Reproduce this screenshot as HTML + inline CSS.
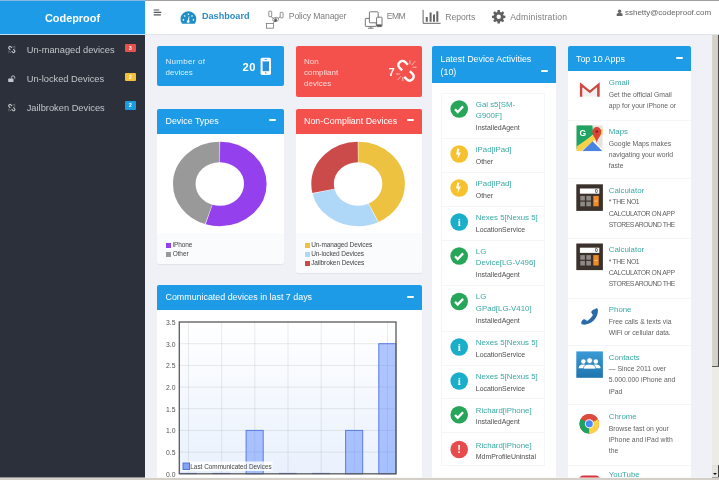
<!DOCTYPE html>
<html lang="en">
<head>
<meta charset="utf-8">
<title>Codeproof Dashboard</title>
<style>
*{box-sizing:border-box;margin:0;padding:0}
html,body{width:719px;height:480px;overflow:hidden}
body{position:relative;background:#eff1f6;font-family:"Liberation Sans",sans-serif;color:#555;font-size:8px}
.abs{position:absolute}
#winTop{left:0;top:0;width:719px;height:1px;background:linear-gradient(90deg,#86b8e0 0,#86b8e0 145px,#a0a0a0 145px);z-index:50}
#winBottom{left:0;top:477.6px;width:719px;height:2.4px;background:#d4d0c8;z-index:50}
#winBottomLine{left:0;top:477px;width:719px;height:.6px;background:rgba(244,243,239,.5);z-index:50}
#scrollR{left:711.8px;top:35px;width:7.2px;height:332px;background:linear-gradient(90deg,#dcd9d2 0,#d4d0c8 1.5px,#d8d4cc 3px,#d0ccc4 6px);z-index:40}
#scrollT{left:711.8px;top:367px;width:7.2px;height:110px;background:#ecebe5;z-index:40}
#scrollDark{left:718px;top:35px;width:1px;height:332px;background:#4a4a4a;z-index:41}
#scrollGray{left:712px;top:366px;width:7px;height:1px;background:#5a5a5a;z-index:41}
#scrollArrow{left:711.8px;top:465px;width:7.2px;height:12.6px;background:#e6e4de;z-index:42;border-right:1px solid #444;border-bottom:1px solid #555}
#scrollArrow:after{content:"";position:absolute;left:1.2px;top:7.6px;border:2px solid transparent;border-top:2.4px solid #111}
/* sidebar */
#side{left:0;top:0;width:145px;height:480px;background:#2b303a}
#brand{left:0;top:1px;width:145px;height:34px;background:#1d9be6;color:#fff;font-weight:bold;font-size:10.9px;text-align:center;line-height:34px}
.mi{left:26.7px;color:#c3c6cc;font-size:9.3px;letter-spacing:0;white-space:nowrap;line-height:12px}
.badge{left:124.8px;width:11.2px;height:8.8px;border-radius:1px;color:#fff;font-size:5.5px;line-height:8.8px;text-align:center;font-weight:bold}
/* top bar */
#top{left:145px;top:1px;width:574px;height:34px;background:#fff;border-bottom:1px solid #e1e4e9}
.nav{color:#7d7d7d;font-size:8.6px;white-space:nowrap;line-height:12px;top:9.8px}
/* panels */
.card{border-radius:2px;color:#fff}
.ph{color:#fff;font-size:8.9px;border-radius:2px 2px 0 0;white-space:nowrap}
.ph span{position:absolute;left:8.5px;top:6.5px;line-height:12px}
.minus{position:absolute;right:8px;width:7px;height:2px;background:#fff;border-radius:1px}
.pb{background:#fff}
.pf{background:#fafbfc;border-radius:0 0 2px 2px;box-shadow:0 1px 1px rgba(0,0,0,.06)}
.lg{font-size:6.5px;color:#444;white-space:nowrap;line-height:9.05px;letter-spacing:-.09px}
.lg i{display:inline-block;width:5px;height:5px;margin-right:1.5px;vertical-align:-0.4px;box-shadow:0 0 0 .5px rgba(255,255,255,.6)}
/* activities */
.it{left:440.5px;width:104px;border-top:1px solid #f4f5f8}
.ic{position:absolute;left:9.5px;width:17.6px;height:17.6px;border-radius:50%}
.tt{position:absolute;left:35.3px;color:#3aa9a3;font-size:7.85px;line-height:11.4px;white-space:nowrap}
.st{position:absolute;left:35.3px;color:#4e4e4e;font-size:6.95px;line-height:10px;white-space:nowrap}
/* apps */
.ap{left:567.5px;width:123px;border-top:1px solid #f4f5f8}
.ap .tt{left:41.3px;top:5.5px}
.ap .ds{position:absolute;left:41.3px;top:18px;color:#626262;font-size:6.8px;line-height:11.3px;white-space:nowrap}
.ai{position:absolute;left:8.5px;top:6px;width:27px;height:27px}
.cp{letter-spacing:-.38px}
</style>
</head>
<body>
<!-- SIDEBAR -->
<div id="side" class="abs"></div>
<div id="brand" class="abs">Codeproof</div>
<div class="abs" style="left:0;top:34.2px;width:145px;height:.9px;background:#bfe0f6"></div>
<div class="abs mi" style="top:43.5px">Un-managed devices</div>
<div class="abs mi" style="top:72.5px">Un-locked Devices</div>
<div class="abs mi" style="top:101.5px">Jailbroken Devices</div>
<div class="abs badge" style="top:43.6px;background:#e8504c">3</div>
<div class="abs badge" style="top:72.6px;background:#f4c23a">2</div>
<div class="abs badge" style="top:101.3px;background:#1b9be0">2</div>

<!-- TOP BAR -->
<div id="top" class="abs"></div>
<div class="abs nav" style="left:202px;top:10.4px;color:#2b8bc9;font-weight:bold;font-size:9.1px">Dashboard</div>
<div class="abs nav" style="left:288.8px;letter-spacing:-.12px">Policy Manager</div>
<div class="abs nav" style="left:386.8px;letter-spacing:-.55px">EMM</div>
<div class="abs nav" style="left:445.2px;top:10.6px">Reports</div>
<div class="abs nav" style="left:510.2px;top:10.6px;letter-spacing:.18px">Administration</div>
<div class="abs nav" style="left:625px;top:6.8px;font-size:7.98px;color:#666">sshetty@codeproof.com</div>

<!-- STAT CARDS -->
<div class="abs card" style="left:157px;top:46.2px;width:126.6px;height:40px;background:#1d9be6"></div>
<div class="abs" style="left:165.5px;top:55.5px;color:#dff0fc;font-size:8px;line-height:11.2px"><span style="letter-spacing:.27px">Number of</span><br>devices</div>
<div class="abs" style="left:242.6px;top:59.6px;color:#fff;font-size:11.2px;font-weight:bold;line-height:15px;letter-spacing:.35px">20</div>
<div class="abs card" style="left:295.5px;top:46.2px;width:126.5px;height:50.4px;background:#f4514c"></div>
<div class="abs" style="left:304px;top:55.5px;color:#fcd9d7;font-size:8px;line-height:11.2px">Non<br>compliant<br>devices</div>
<div class="abs" style="left:388.4px;top:64.6px;color:#fff;font-size:11.2px;font-weight:bold;line-height:14px">7</div>

<!-- DEVICE TYPES -->
<div class="abs ph" style="left:157px;top:109.2px;width:126.5px;height:24.5px;background:#1d9be6"><span style="top:6px">Device Types</span><div class="minus" style="top:10px"></div></div>
<div class="abs pb" style="left:157px;top:133.7px;width:126.5px;height:99.3px"></div>
<div class="abs pf" style="left:157px;top:233px;width:126.5px;height:31px"></div>
<div class="abs lg" style="left:166.2px;top:240.4px"><i style="background:#9440ed"></i>iPhone<br><i style="background:#999"></i>Other</div>

<!-- NON COMPLIANT -->
<div class="abs ph" style="left:295.5px;top:109.2px;width:126.5px;height:24.5px;background:#f4514c"><span style="top:6px">Non-Compliant Devices</span><div class="minus" style="top:10px"></div></div>
<div class="abs pb" style="left:295.5px;top:133.7px;width:126.5px;height:99.3px"></div>
<div class="abs pf" style="left:295.5px;top:233px;width:126.5px;height:40px"></div>
<div class="abs lg" style="left:304.7px;top:240.4px"><i style="background:#edc240"></i>Un-managed Devices<br><i style="background:#afd8f8"></i>Un-locked Devices<br><i style="background:#cb4b4b"></i>Jailbroken Devices</div>

<!-- CHART PANEL -->
<div class="abs ph" style="left:157px;top:285px;width:265px;height:24.5px;background:#1d9be6"><span style="top:5.6px">Communicated devices in last 7 days</span><div class="minus" style="top:10.5px"></div></div>
<div class="abs pb" style="left:157px;top:309.5px;width:265px;height:170px"></div>

<svg class="abs" style="left:0;top:0" width="719" height="480" viewBox="0 0 719 480">
<g transform="translate(219.8 184.0) scale(1 0.902)">
<circle cx="0" cy="0" r="35.5" fill="none" stroke="#9440ed" stroke-width="22.6" pathLength="360" stroke-dasharray="197.20 162.80" stroke-dashoffset="-0.40" transform="rotate(-90)"/>
<circle cx="0" cy="0" r="35.5" fill="none" stroke="#999999" stroke-width="22.6" pathLength="360" stroke-dasharray="161.20 198.80" stroke-dashoffset="-198.40" transform="rotate(-90)"/>
</g>
<g transform="translate(358.1 184.0) scale(1 0.902)">
<circle cx="0" cy="0" r="35.5" fill="none" stroke="#edc240" stroke-width="22.6" pathLength="360" stroke-dasharray="153.49 206.51" stroke-dashoffset="-0.40" transform="rotate(-90)"/>
<circle cx="0" cy="0" r="35.5" fill="none" stroke="#afd8f8" stroke-width="22.6" pathLength="360" stroke-dasharray="102.06 257.94" stroke-dashoffset="-154.69" transform="rotate(-90)"/>
<circle cx="0" cy="0" r="35.5" fill="none" stroke="#cb4b4b" stroke-width="22.6" pathLength="360" stroke-dasharray="102.06 257.94" stroke-dashoffset="-257.54" transform="rotate(-90)"/>
</g>
</svg>
<svg class="abs" style="left:0;top:0" width="719" height="480" viewBox="0 0 719 480">
<defs><linearGradient id="pg" x1="0" y1="0" x2="0" y2="1"><stop offset="0" stop-color="#ffffff"/><stop offset="1" stop-color="#e9f1fd"/></linearGradient></defs>
<rect x="179.3" y="322.0" width="216.7" height="151.8" fill="url(#pg)"/>
<line x1="179.3" x2="396.0" y1="452.1" y2="452.1" stroke="#545454" stroke-opacity=".2" stroke-width="0.6"/>
<line x1="179.3" x2="396.0" y1="430.4" y2="430.4" stroke="#545454" stroke-opacity=".2" stroke-width="0.6"/>
<line x1="179.3" x2="396.0" y1="408.7" y2="408.7" stroke="#545454" stroke-opacity=".2" stroke-width="0.6"/>
<line x1="179.3" x2="396.0" y1="387.1" y2="387.1" stroke="#545454" stroke-opacity=".2" stroke-width="0.6"/>
<line x1="179.3" x2="396.0" y1="365.4" y2="365.4" stroke="#545454" stroke-opacity=".2" stroke-width="0.6"/>
<line x1="179.3" x2="396.0" y1="343.7" y2="343.7" stroke="#545454" stroke-opacity=".2" stroke-width="0.6"/>
<line y1="322.0" y2="473.8" x1="188.5" x2="188.5" stroke="#545454" stroke-opacity=".2" stroke-width="0.6"/>
<line y1="322.0" y2="473.8" x1="221.7" x2="221.7" stroke="#545454" stroke-opacity=".2" stroke-width="0.6"/>
<line y1="322.0" y2="473.8" x1="254.8" x2="254.8" stroke="#545454" stroke-opacity=".2" stroke-width="0.6"/>
<line y1="322.0" y2="473.8" x1="288.0" x2="288.0" stroke="#545454" stroke-opacity=".2" stroke-width="0.6"/>
<line y1="322.0" y2="473.8" x1="321.2" x2="321.2" stroke="#545454" stroke-opacity=".2" stroke-width="0.6"/>
<line y1="322.0" y2="473.8" x1="354.3" x2="354.3" stroke="#545454" stroke-opacity=".2" stroke-width="0.6"/>
<line y1="322.0" y2="473.8" x1="387.5" x2="387.5" stroke="#545454" stroke-opacity=".2" stroke-width="0.6"/>
<line x1="179.3" x2="196.9" y1="473.5" y2="473.5" stroke="#5a7ce0" stroke-width="1.2"/>
<line x1="212.5" x2="230.1" y1="473.5" y2="473.5" stroke="#5a7ce0" stroke-width="1.2"/>
<rect x="246.1" y="430.4" width="17.1" height="43.4" fill="#5482ff" fill-opacity=".45" stroke="#5a7ce0" stroke-width="1"/>
<line x1="278.8" x2="296.4" y1="473.5" y2="473.5" stroke="#5a7ce0" stroke-width="1.2"/>
<line x1="312.0" x2="329.6" y1="473.5" y2="473.5" stroke="#5a7ce0" stroke-width="1.2"/>
<rect x="345.6" y="430.4" width="17.1" height="43.4" fill="#5482ff" fill-opacity=".45" stroke="#5a7ce0" stroke-width="1"/>
<rect x="378.8" y="343.7" width="17.1" height="130.1" fill="#5482ff" fill-opacity=".45" stroke="#5a7ce0" stroke-width="1"/>
<rect x="179.3" y="322.0" width="216.7" height="151.8" fill="none" stroke="#5a5a5a" stroke-width="1.3"/>
<text x="175.5" y="476.8" text-anchor="end" font-family="Liberation Sans, sans-serif" font-size="6.8" fill="#545454">0.0</text>
<text x="175.5" y="455.1" text-anchor="end" font-family="Liberation Sans, sans-serif" font-size="6.8" fill="#545454">0.5</text>
<text x="175.5" y="433.4" text-anchor="end" font-family="Liberation Sans, sans-serif" font-size="6.8" fill="#545454">1.0</text>
<text x="175.5" y="411.7" text-anchor="end" font-family="Liberation Sans, sans-serif" font-size="6.8" fill="#545454">1.5</text>
<text x="175.5" y="390.1" text-anchor="end" font-family="Liberation Sans, sans-serif" font-size="6.8" fill="#545454">2.0</text>
<text x="175.5" y="368.4" text-anchor="end" font-family="Liberation Sans, sans-serif" font-size="6.8" fill="#545454">2.5</text>
<text x="175.5" y="346.7" text-anchor="end" font-family="Liberation Sans, sans-serif" font-size="6.8" fill="#545454">3.0</text>
<text x="175.5" y="325.0" text-anchor="end" font-family="Liberation Sans, sans-serif" font-size="6.8" fill="#545454">3.5</text>
<rect x="181.5" y="461.5" width="91" height="9.5" fill="#fff" fill-opacity=".82"/>
<rect x="183" y="463" width="6.5" height="6.5" fill="#86a2f2" stroke="#4f72dc" stroke-width="1"/>
<text x="190.3" y="469" font-family="Liberation Sans, sans-serif" font-size="6.4" fill="#444">Last Communicated Devices</text>
</svg>

<!-- ACTIVITIES -->
<div class="abs ph" style="left:432px;top:46px;width:123.5px;height:37px;background:#1d9be6"><span style="line-height:13px;top:6.6px">Latest Device Activities<br>(10)</span><div class="minus" style="top:23.5px"></div></div>
<div class="abs pb" style="left:432px;top:83px;width:123.5px;height:397px"></div>

<div class="abs" style="left:440.5px;top:92.5px;width:104px;height:373.5px;border:1px solid #f5f6f9"></div>
<div class="abs it" style="top:92.5px;height:45.0px">
<div class="tt" style="top:5.4px">Gal s5[SM-<br>G900F]</div>
<div class="st" style="top:29.6px">InstalledAgent</div>
</div>
<div class="abs it" style="top:137.5px;height:34.0px">
<div class="tt" style="top:5.4px">iPad[iPad]</div>
<div class="st" style="top:18.2px">Other</div>
</div>
<div class="abs it" style="top:171.5px;height:34.0px">
<div class="tt" style="top:5.4px">iPad[iPad]</div>
<div class="st" style="top:18.2px">Other</div>
</div>
<div class="abs it" style="top:205.5px;height:34.0px">
<div class="tt" style="top:5.4px">Nexes 5[Nexus 5]</div>
<div class="st" style="top:18.2px">LocationService</div>
</div>
<div class="abs it" style="top:239.5px;height:45.5px">
<div class="tt" style="top:5.4px">LG<br>Device[LG-V496]</div>
<div class="st" style="top:29.6px">InstalledAgent</div>
</div>
<div class="abs it" style="top:285.0px;height:45.5px">
<div class="tt" style="top:5.4px">LG<br>GPad[LG-V410]</div>
<div class="st" style="top:29.6px">InstalledAgent</div>
</div>
<div class="abs it" style="top:330.5px;height:34.0px">
<div class="tt" style="top:5.4px">Nexes 5[Nexus 5]</div>
<div class="st" style="top:18.2px">LocationService</div>
</div>
<div class="abs it" style="top:364.5px;height:33.8px">
<div class="tt" style="top:5.4px">Nexes 5[Nexus 5]</div>
<div class="st" style="top:18.2px">LocationService</div>
</div>
<div class="abs it" style="top:398.3px;height:33.7px">
<div class="tt" style="top:5.4px">Richard[iPhone]</div>
<div class="st" style="top:18.2px">InstalledAgent</div>
</div>
<div class="abs it" style="top:432.0px;height:33.3px">
<div class="tt" style="top:6.5px">Richard[iPhone]</div>
<div class="st" style="top:19.3px">MdmProfileUninstal</div>
</div>
<svg class="abs" style="left:0;top:0" width="719" height="480" viewBox="0 0 719 480">
<circle cx="459.2" cy="109.0" r="8.8" fill="#27a65a"/>
<path d="M455.0 109.2 l2.7 2.8 l5.4 -5.6" fill="none" stroke="#fff" stroke-width="2.3" stroke-linecap="butt" stroke-linejoin="miter"/>
<circle cx="459.2" cy="154.0" r="8.8" fill="#f6c12d"/>
<path d="M459.5 148.8 l-2.2 -0.4 l-1.2 6 h2.2 l-1 5 l3.6 -7 h-2.4 l1 -3.6 z" fill="#fff"/>
<circle cx="459.2" cy="188.0" r="8.8" fill="#f6c12d"/>
<path d="M459.5 182.8 l-2.2 -0.4 l-1.2 6 h2.2 l-1 5 l3.6 -7 h-2.4 l1 -3.6 z" fill="#fff"/>
<circle cx="459.2" cy="222.0" r="8.8" fill="#19aeca"/>
<text x="459.2" y="225.8" text-anchor="middle" font-family="Liberation Serif, serif" font-weight="bold" font-size="11" fill="#fff">i</text>
<circle cx="459.2" cy="256.0" r="8.8" fill="#27a65a"/>
<path d="M455.0 256.2 l2.7 2.8 l5.4 -5.6" fill="none" stroke="#fff" stroke-width="2.3" stroke-linecap="butt" stroke-linejoin="miter"/>
<circle cx="459.2" cy="301.5" r="8.8" fill="#27a65a"/>
<path d="M455.0 301.7 l2.7 2.8 l5.4 -5.6" fill="none" stroke="#fff" stroke-width="2.3" stroke-linecap="butt" stroke-linejoin="miter"/>
<circle cx="459.2" cy="347.0" r="8.8" fill="#19aeca"/>
<text x="459.2" y="350.8" text-anchor="middle" font-family="Liberation Serif, serif" font-weight="bold" font-size="11" fill="#fff">i</text>
<circle cx="459.2" cy="381.0" r="8.8" fill="#19aeca"/>
<text x="459.2" y="384.8" text-anchor="middle" font-family="Liberation Serif, serif" font-weight="bold" font-size="11" fill="#fff">i</text>
<circle cx="459.2" cy="414.8" r="8.8" fill="#27a65a"/>
<path d="M455.0 415.0 l2.7 2.8 l5.4 -5.6" fill="none" stroke="#fff" stroke-width="2.3" stroke-linecap="butt" stroke-linejoin="miter"/>
<circle cx="459.2" cy="449.5" r="8.8" fill="#e74c4c"/>
<text x="459.2" y="453.4" text-anchor="middle" font-family="Liberation Sans, sans-serif" font-weight="bold" font-size="11" fill="#fff">!</text>
</svg>

<!-- APPS -->
<div class="abs ph" style="left:567.5px;top:46px;width:123px;height:24.5px;background:#1d9be6"><span>Top 10 Apps</span><div class="minus" style="top:10.5px"></div></div>
<div class="abs pb" style="left:567.5px;top:70.5px;width:123px;height:410px"></div>

<div class="abs ap" style="border-top:none;top:70.5px;height:49.00px">
<div class="tt" style="top:6.8px">Gmail</div>
<div class="ds" style="top:18.2px">Get the official Gmail<br>app for your iPhone or</div>
</div>
<div class="abs ap" style="top:119.5px;height:58.80px">
<div class="tt" style="top:5.6px">Maps</div>
<div class="ds" style="top:17.0px">Google Maps makes<br>navigating your world<br>faste</div>
</div>
<div class="abs ap" style="top:178.3px;height:59.30px">
<div class="tt" style="top:5.6px">Calculator</div>
<div class="ds" style="top:17.0px"><span class="cp">* THE NO1</span><br><span class="cp">CALCULATOR ON APP</span><br><span class="cp" style="letter-spacing:-.48px">STORES AROUND THE</span></div>
</div>
<div class="abs ap" style="top:237.6px;height:59.90px">
<div class="tt" style="top:5.6px">Calculator</div>
<div class="ds" style="top:17.0px"><span class="cp">* THE NO1</span><br><span class="cp">CALCULATOR ON APP</span><br><span class="cp" style="letter-spacing:-.48px">STORES AROUND THE</span></div>
</div>
<div class="abs ap" style="top:297.5px;height:47.60px">
<div class="tt" style="top:5.6px">Phone</div>
<div class="ds" style="top:17.0px">Free calls &amp; texts via<br>WiFi or cellular data.</div>
</div>
<div class="abs ap" style="top:345.1px;height:58.40px">
<div class="tt" style="top:5.6px">Contacts</div>
<div class="ds" style="top:17.0px">— Since 2011 over<br>5.000.000 iPhone and<br>iPad</div>
</div>
<div class="abs ap" style="top:403.5px;height:61.00px">
<div class="tt" style="top:6.6px">Chrome</div>
<div class="ds" style="top:18.0px">Browse fast on your<br>iPhone and iPad with<br>the</div>
</div>
<div class="abs ap" style="top:464.5px;height:15.50px">
<div class="tt" style="top:3.8px">YouTube</div>
<div class="ds" style="top:15.2px"></div>
</div>

<svg class="abs" style="left:0;top:0" width="719" height="480" viewBox="0 0 719 480">
<g transform="translate(11.8 49.5) rotate(45) scale(1.0)" fill="none" stroke="#c3c6cc" stroke-width="1.1" stroke-linecap="butt"><path d="M-0.9 -1.25 H-2.6 a1.25 1.25 0 0 0 0 2.5 H-0.9"/><path d="M0.9 -1.25 H2.6 a1.25 1.25 0 0 1 0 2.5 H0.9"/></g><g stroke="#c3c6cc" stroke-width="0.5" fill="none"><path d="M13.00 46.10 L13.30 47.30"/><path d="M14.20 46.90 L15.20 46.10"/><path d="M14.20 48.10 L15.40 47.90"/><path d="M10.60 52.90 L10.30 51.70"/><path d="M9.40 52.10 L8.40 52.90"/><path d="M9.40 50.90 L8.20 51.10"/></g>
<g transform="translate(11.8 107.6) rotate(45) scale(1.0)" fill="none" stroke="#c3c6cc" stroke-width="1.1" stroke-linecap="butt"><path d="M-0.9 -1.25 H-2.6 a1.25 1.25 0 0 0 0 2.5 H-0.9"/><path d="M0.9 -1.25 H2.6 a1.25 1.25 0 0 1 0 2.5 H0.9"/></g><g stroke="#c3c6cc" stroke-width="0.5" fill="none"><path d="M13.00 104.20 L13.30 105.40"/><path d="M14.20 105.00 L15.20 104.20"/><path d="M14.20 106.20 L15.40 106.00"/><path d="M10.60 111.00 L10.30 109.80"/><path d="M9.40 110.20 L8.40 111.00"/><path d="M9.40 109.00 L8.20 109.20"/></g>
<rect x="8.2" y="78.6" width="5.3" height="3.3" rx=".5" fill="#c3c6cc"/>
<path d="M11.4 78.6 v-1 a1.7 1.7 0 0 1 3.4 0 v1" fill="none" stroke="#c3c6cc" stroke-width="1"/>
<g stroke="#555" stroke-width="1.15"><path d="M153.7 10h5.6M153.7 12.4h7.6M153.7 14.8h7.2"/></g>
<path d="M182 23.75 A7.9 7.9 0 1 1 194.8 23.75 Z" fill="#2190c6"/>
<g fill="#fff"><circle cx="183.4" cy="19.9" r=".8"/><circle cx="184.8" cy="16" r=".8"/><circle cx="188.4" cy="14.2" r=".8"/><circle cx="192" cy="16" r=".8"/><circle cx="193.4" cy="19.9" r=".8"/><circle cx="188.2" cy="21.6" r="1.4"/><path d="M187.7 21.2 l1.1-5 l.6 .1 l-.5 5.1z"/></g>
<g fill="none" stroke="#777" stroke-width=".8"><rect x="268.8" y="11.2" width="2.9" height="5.4" rx=".4"/><rect x="280.2" y="12.4" width="2.9" height="5.4" rx=".4"/><rect x="266.5" y="23.4" width="7" height="4.8"/><circle cx="274.6" cy="19.6" r="1.9"/><circle cx="276.6" cy="19.3" r="1.9"/><path d="M271 16.6 l2.6 1.8M280.2 16.8 l-2 1.4M273 23.4 l1.6-2"/></g>
<circle cx="275.6" cy="20.4" r="1.3" fill="#555"/>
<g fill="#fff" stroke="#666" stroke-width=".9"><rect x="365.3" y="18.4" width="11" height="8" rx=".6"/><rect x="369.4" y="11.8" width="8.8" height="11" rx=".8"/><rect x="376.6" y="17.2" width="5.4" height="9.4" rx=".7"/></g>
<path d="M368 28.2h5.6M370.8 26.4v1.8" stroke="#666" stroke-width=".9"/><rect x="377" y="24.4" width="4.6" height="2" fill="#555"/>
<g stroke="#666" fill="none"><path d="M423.1 9.9V23.3H440.6" stroke-width="1"/><g stroke-width="2"><path d="M426.8 17V21.8M430.6 12.4V21.8M434 14.5V21.8M437.3 11.2V21.8"/></g></g>
<path d="M503.51 15.42 L505.40 15.65 L505.40 17.95 L503.51 18.18 L503.07 19.22 L504.25 20.73 L502.63 22.35 L501.12 21.17 L500.08 21.61 L499.85 23.50 L497.55 23.50 L497.32 21.61 L496.28 21.17 L494.77 22.35 L493.15 20.73 L494.33 19.22 L493.89 18.18 L492.00 17.95 L492.00 15.65 L493.89 15.42 L494.33 14.38 L493.15 12.87 L494.77 11.25 L496.28 12.43 L497.32 11.99 L497.55 10.10 L499.85 10.10 L500.08 11.99 L501.12 12.43 L502.63 11.25 L504.25 12.87 L503.07 14.38Z M500.9 16.8 a2.2 2.2 0 1 0 -4.4 0 a2.2 2.2 0 1 0 4.4 0Z" fill="#606060" fill-rule="evenodd"/>
<g fill="#666"><circle cx="619.6" cy="11.2" r="1.7"/><path d="M616.7 16v-1.4q0-1.9 2.9-1.9t2.9 1.9V16z"/></g>
<rect x="260.6" y="57.7" width="10.4" height="17.2" rx="1.6" fill="#fff"/><rect x="262.6" y="61.4" width="6.4" height="9.8" fill="#2a8fdd"/><rect x="264.6" y="59.1" width="2.4" height=".7" fill="#2a8fdd"/><circle cx="265.8" cy="73" r=".8" fill="#2a8fdd"/>
<g transform="translate(406.2 70.6) rotate(45)" fill="none" stroke="#fff" stroke-width="2.4"><path d="M-3 -3.500 H-7 a3.500 3.500 0 0 0 -3.500 3.500 v1 a3.500 3.500 0 0 0 3.500 3.500 H-3" transform="translate(0,-1.800)"/><path d="M3 -4 H7 a3.500 3.500 0 0 1 3.500 3.500 v1 a3.500 3.500 0 0 1 -3.500 3.500 H3" transform="translate(0,1.800)"/></g>
<g stroke="#fbd5d3" stroke-width=".8" fill="none"><path d="M410 64.200V60M411.800 65l3.400-3.800M412.600 67.200h4M402.800 77v4.200M401 76.200l-3.200 3.600M400.200 74h-4.200"/></g>
<path d="M581.2 96.7V85L589.8 92L598.4 85V96.7" fill="none" stroke="#cc4a41" stroke-width="2.6" stroke-linejoin="miter"/>
<path d="M582.6 96.6V87.2L589.8 93.2L597 87.2V96.6Z" fill="#f3efee"/>
<g transform="translate(576.3 125.2)"><clipPath id="mc"><rect width="26.4" height="26" rx="1"/></clipPath><g clip-path="url(#mc)"><rect width="26.4" height="26" fill="#e6e2dc"/><path d="M0 0H16L17 9L0 24Z" fill="#1fa463"/><path d="M0 26V21.5L26.4 3V9L4.5 26Z" fill="#f6d14a"/><path d="M6 26L16.5 16L26.4 26Z" fill="#4a82e4"/><path d="M16.5 16L17.6 15L26.4 24V26Z" fill="#fff"/><path d="M20.5 18.6C20 13 16 11 16 6.400a4.500 4.500 0 0 1 9 0C25 11 21 13 20.500 18.600z" fill="#db4437"/><circle cx="20.5" cy="6.4" r="1.4" fill="#8c231b"/></g><text x="3.2" y="10.4" font-family="Liberation Sans, sans-serif" font-weight="bold" font-size="8.6" fill="#fff">G</text></g>
<g transform="translate(576.3 184.3)"><rect width="26.6" height="26.6" fill="#3b312c"/><rect x="3.6" y="4.2" width="19.4" height="5.2" fill="#fff"/><text x="21.6" y="8.8" text-anchor="end" font-family="Liberation Sans, sans-serif" font-weight="bold" font-size="5" fill="#333">0</text><rect x="4" y="11.6" width="4.6" height="4.6" fill="#8f8a86"/><rect x="10" y="11.6" width="4.6" height="4.6" fill="#8f8a86"/><rect x="4" y="17.4" width="4.6" height="4.6" fill="#8f8a86"/><rect x="10" y="17.4" width="4.6" height="4.6" fill="#8f8a86"/><rect x="17" y="11.6" width="5.4" height="10.4" fill="#f08a24"/><rect x="18" y="16.4" width="3.4" height=".8" fill="#fbd2a6"/></g>
<g transform="translate(576.3 243.5)"><rect width="26.6" height="26.6" fill="#3b312c"/><rect x="3.6" y="4.2" width="19.4" height="5.2" fill="#fff"/><text x="21.6" y="8.8" text-anchor="end" font-family="Liberation Sans, sans-serif" font-weight="bold" font-size="5" fill="#333">0</text><rect x="4" y="11.6" width="4.6" height="4.6" fill="#8f8a86"/><rect x="10" y="11.6" width="4.6" height="4.6" fill="#8f8a86"/><rect x="4" y="17.4" width="4.6" height="4.6" fill="#8f8a86"/><rect x="10" y="17.4" width="4.6" height="4.6" fill="#8f8a86"/><rect x="17" y="11.6" width="5.4" height="10.4" fill="#f08a24"/><rect x="18" y="16.4" width="3.4" height=".8" fill="#fbd2a6"/></g>
<path d="M596.2 307.6c1 0 1.6 .5 1.7 1.6c.3 3.6-1 7.6-4.2 10.8c-3.2 3.2-7.2 4.4-10.8 4c-1.100-.1-1.700-.8-1.700-1.800c0-1.400 1.700-3.600 2.900-3.600c.7 0 1.800 .7 3 1.700c2-.9 4.900-3.800 5.800-5.800c-1-1.200-1.700-2.300-1.700-3c0-1.200 2.200-2.900 3.600-2.900z" fill="#2b6aa8" transform="translate(0 0.6)"/>
<defs><linearGradient id="cg" x1="0" y1="0" x2="0" y2="1"><stop offset="0" stop-color="#3a9bd6"/><stop offset="1" stop-color="#1f74ad"/></linearGradient></defs><rect x="576.3" y="351.4" width="26.6" height="26.4" fill="url(#cg)"/>
<g fill="#fff" transform="translate(589.6 364.2) scale(1.2) translate(-589.6 -365.2)"><circle cx="584.4" cy="363" r="1.9"/><circle cx="594.8" cy="363" r="1.9"/><path d="M580.4 368.600q0-3.200 4-3.200t4 3.200z"/><path d="M590.800 368.600q0-3.200 4-3.200t4 3.200z"/><circle cx="589.6" cy="362.200" r="2.400" stroke="#2c86c2" stroke-width=".6"/><path d="M584.400 369.200q0-4 5.200-4t5.200 4z" stroke="#2c86c2" stroke-width=".6"/></g>
<circle cx="589.3" cy="423.8" r="9.8" fill="#dd4b3e"/>
<path d="M589.3 423.8 L580.81 418.90 A9.8 9.8 0 0 0 589.30 433.60 Z" fill="#1da261"/>
<path d="M589.3 423.8 L589.30 433.60 A9.8 9.8 0 0 0 597.79 418.90 Z" fill="#fcd147"/>
<path d="M589.3 423.8 L597.79 418.90 A9.8 9.8 0 0 0 580.81 418.90 Z" fill="#dd4b3e"/>
<path d="M580.81 418.90 L585.32 426.10 L589.30 428.40 L589.3 423.8Z" fill="#1da261"/>
<path d="M589.30 433.60 L593.28 426.10 L593.28 421.50 L589.3 423.8Z" fill="#fcd147"/>
<path d="M597.79 418.90 L589.30 419.20 L585.32 421.50 L589.3 423.8Z" fill="#dd4b3e"/>
<circle cx="589.3" cy="423.8" r="4.5" fill="#f4f4f4"/><circle cx="589.3" cy="423.8" r="3.5" fill="#4a8af4"/>
<rect x="578.5" y="475.6" width="22" height="20" rx="5" fill="#d8323a"/>
</svg>

<!-- WINDOW CHROME -->
<div id="scrollR" class="abs"></div><div id="scrollT" class="abs"></div><div id="scrollArrow" class="abs"></div><div id="scrollDark" class="abs"></div><div id="scrollGray" class="abs"></div>
<div id="winTop" class="abs"></div><div id="winBottomLine" class="abs"></div><div id="winBottom" class="abs"></div>
</body>
</html>
